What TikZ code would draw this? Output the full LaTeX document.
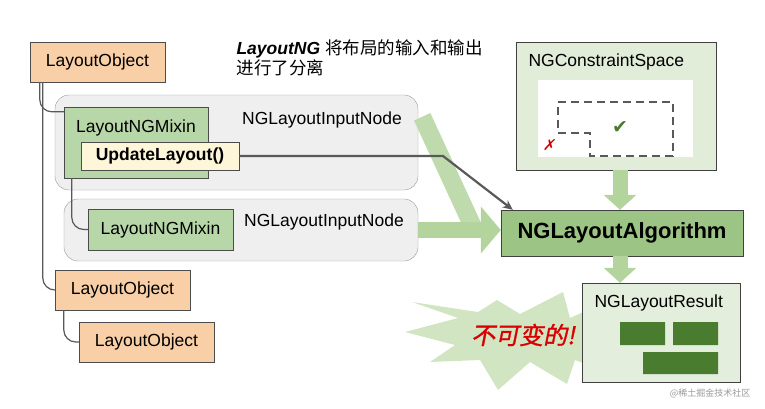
\documentclass[tikz,border=0pt]{standalone}
\usepackage{fontspec}
\setmainfont{Liberation Sans}
\newfontfamily\cjk{Noto Sans CJK SC}
\newfontfamily\cjkslant[FakeSlant=0.2,FakeBold=1.2]{Noto Sans CJK SC}
\newfontfamily\symb{DejaVu Sans}
\usetikzlibrary{positioning,calc,arrows.meta}

\definecolor{objfill}{HTML}{F8CFA6}
\definecolor{mixfill}{HTML}{B7D7A8}
\definecolor{updfill}{HTML}{FEF6D8}
\definecolor{inpfill}{HTML}{EFEFEF}
\definecolor{spcfill}{HTML}{E1ECD9}
\definecolor{algfill}{HTML}{9CC484}
\definecolor{resfill}{HTML}{E4EEDC}
\definecolor{blkfill}{HTML}{4A7C2F}
\definecolor{flow}{HTML}{B4D49E}
\definecolor{burst}{HTML}{D2E5C3}

\begin{document}
\begin{tikzpicture}[x=1pt, y=-1pt, font=\fontsize{17.5}{20}\selectfont,
    obj/.style={draw=black!70, fill=objfill, minimum width=135pt, minimum height=40pt, inner sep=0},
    mix/.style={draw=black!70, fill=mixfill, inner sep=0},
    inp/.style={draw=black!40, fill=inpfill, rounded corners=14pt, inner sep=0},
    tree/.style={draw=black!65, line width=1.2pt, rounded corners=12pt},
    fatarrow/.style={draw=flow, line width=15pt, -{Triangle[width=32pt,length=15pt]}},
    call/.style={draw=black!65, line width=2.2pt, -{Stealth[length=10pt,width=9pt]}}]
    \useasboundingbox (0,0) rectangle (765,408);

            % starburst behind the result
            \fill[burst] (405,332) -- (458,318) -- (412,302) -- (478,312) -- (497,300) -- (520,314)
                -- (563,292) -- (570,318) -- (610,300) -- (600,335) -- (615,375) -- (575,360)
                -- (567,384) -- (530,362) -- (498,390) -- (480,360) -- (430,362) -- (455,345) -- cycle;

            \node (I1)[inp, minimum width=363pt, minimum height=95pt] at (236.5,142.5) {};
            \node (I2)[inp, minimum width=354pt, minimum height=62pt] at (241,230) {};
            \node (C1)[draw=black!75, fill=spcfill, minimum width=200pt, minimum height=128pt] at (616,106) {};
            \node (A1)[draw=black!75, fill=algfill, minimum width=242pt, minimum height=46pt,
                font=\fontsize{22}{24}\selectfont\bfseries] at (622,233) {NGLayoutAlgorithm};
            \node (R1)[draw=black!75, fill=resfill, minimum width=158pt, minimum height=99pt] at (661,332.5) {};

            % flows into the algorithm
            \draw[flow!85!white, line width=18pt] ([shift={(4,22)}]I1.north east) -- ([xshift=-25]A1.west);
            \draw[fatarrow, -{Triangle[width=46pt,length=20pt]}, line width=16pt] (I2.east) -- (I2.east -| A1.west);
            \draw[fatarrow] (C1.south -| 620,0) -- (A1.north -| 620,0);
            \draw[fatarrow] (A1.south -| 620,0) -- (R1.north -| 620,0);

            \node (T1) at (322,120) {NGLayoutInputNode};
            \node (T2) at (324,222) {NGLayoutInputNode};
            \node (O1)[obj] at (97.5,62) {LayoutObject};
            \node (O2)[obj] at (122.5,290) {LayoutObject};
            \node (O3)[obj] at (146.5,342) {LayoutObject};
            \node (M1)[mix, minimum width=144pt, minimum height=71pt,
                label={[anchor=north, yshift=-9pt]north:LayoutNGMixin}] at (136,142.5) {};
            \node (M2)[mix, minimum width=145pt, minimum height=41pt] at (160.5,229.5) {LayoutNGMixin};
            \node (U1)[draw=black!70, fill=updfill, minimum width=158pt, minimum height=28pt, inner sep=0,
                font=\fontsize{17.5}{20}\selectfont\bfseries] at (160,156) {UpdateLayout()};

            \node (H1)[anchor=west, align=left] at (233,58)
                {{\bfseries\itshape LayoutNG} {\cjk 将布局的输入和输出}\\{\cjk 进行了分离}};

            % constraint space
            \node (C2)[anchor=west] at (525,62) {NGConstraintSpace};
            \fill[white] (538,80) rectangle (693,157);
            \draw[black!65, line width=1.6pt, dash pattern=on 8pt off 5pt]
                (558,102) -- (673,102) -- (673,156) -- (590,156) -- (590,133) -- (558,133) -- cycle;
            \node (OK)[text=blkfill, font=\symb\fontsize{19}{20}\selectfont] at (620,128) {✔};
            \node (NO)[text=red!80!black, font=\symb\fontsize{15}{16}\selectfont, xslant=0.2] at (550,145) {✗};

            % result
            \node (R2)[anchor=west] at (591,303) {NGLayoutResult};
            \fill[blkfill] (620,322) rectangle (665,345) (673,322) rectangle (718,345) (643,352) rectangle (718,374);

            \node (B1)[text=red!85!black, font=\cjkslant\fontsize{24}{26}\selectfont] at (523,335) {不可变的!};

            % tree of layout objects
            \draw[tree] ([xshift=10pt]O1.south west) |- ([yshift=-5pt]M1.north west);
            \draw[tree] ([xshift=13pt]O1.south west) |- (O2.west);
            \draw[tree] ([xshift=8pt]M1.south west) |- (M2.west);
            \draw[tree] ([xshift=9pt]O2.south west) |- (O3.west);

            \coordinate (K1) at (443,155);
            \draw[call] (U1.east) -- (U1.east -| K1) -- ([xshift=12pt]A1.north west);

            \node (W1)[text=black!40, font=\cjk\fontsize{9}{10}\selectfont] at (710,393) {@稀土掘金技术社区};
    \end{tikzpicture}
\end{document}
